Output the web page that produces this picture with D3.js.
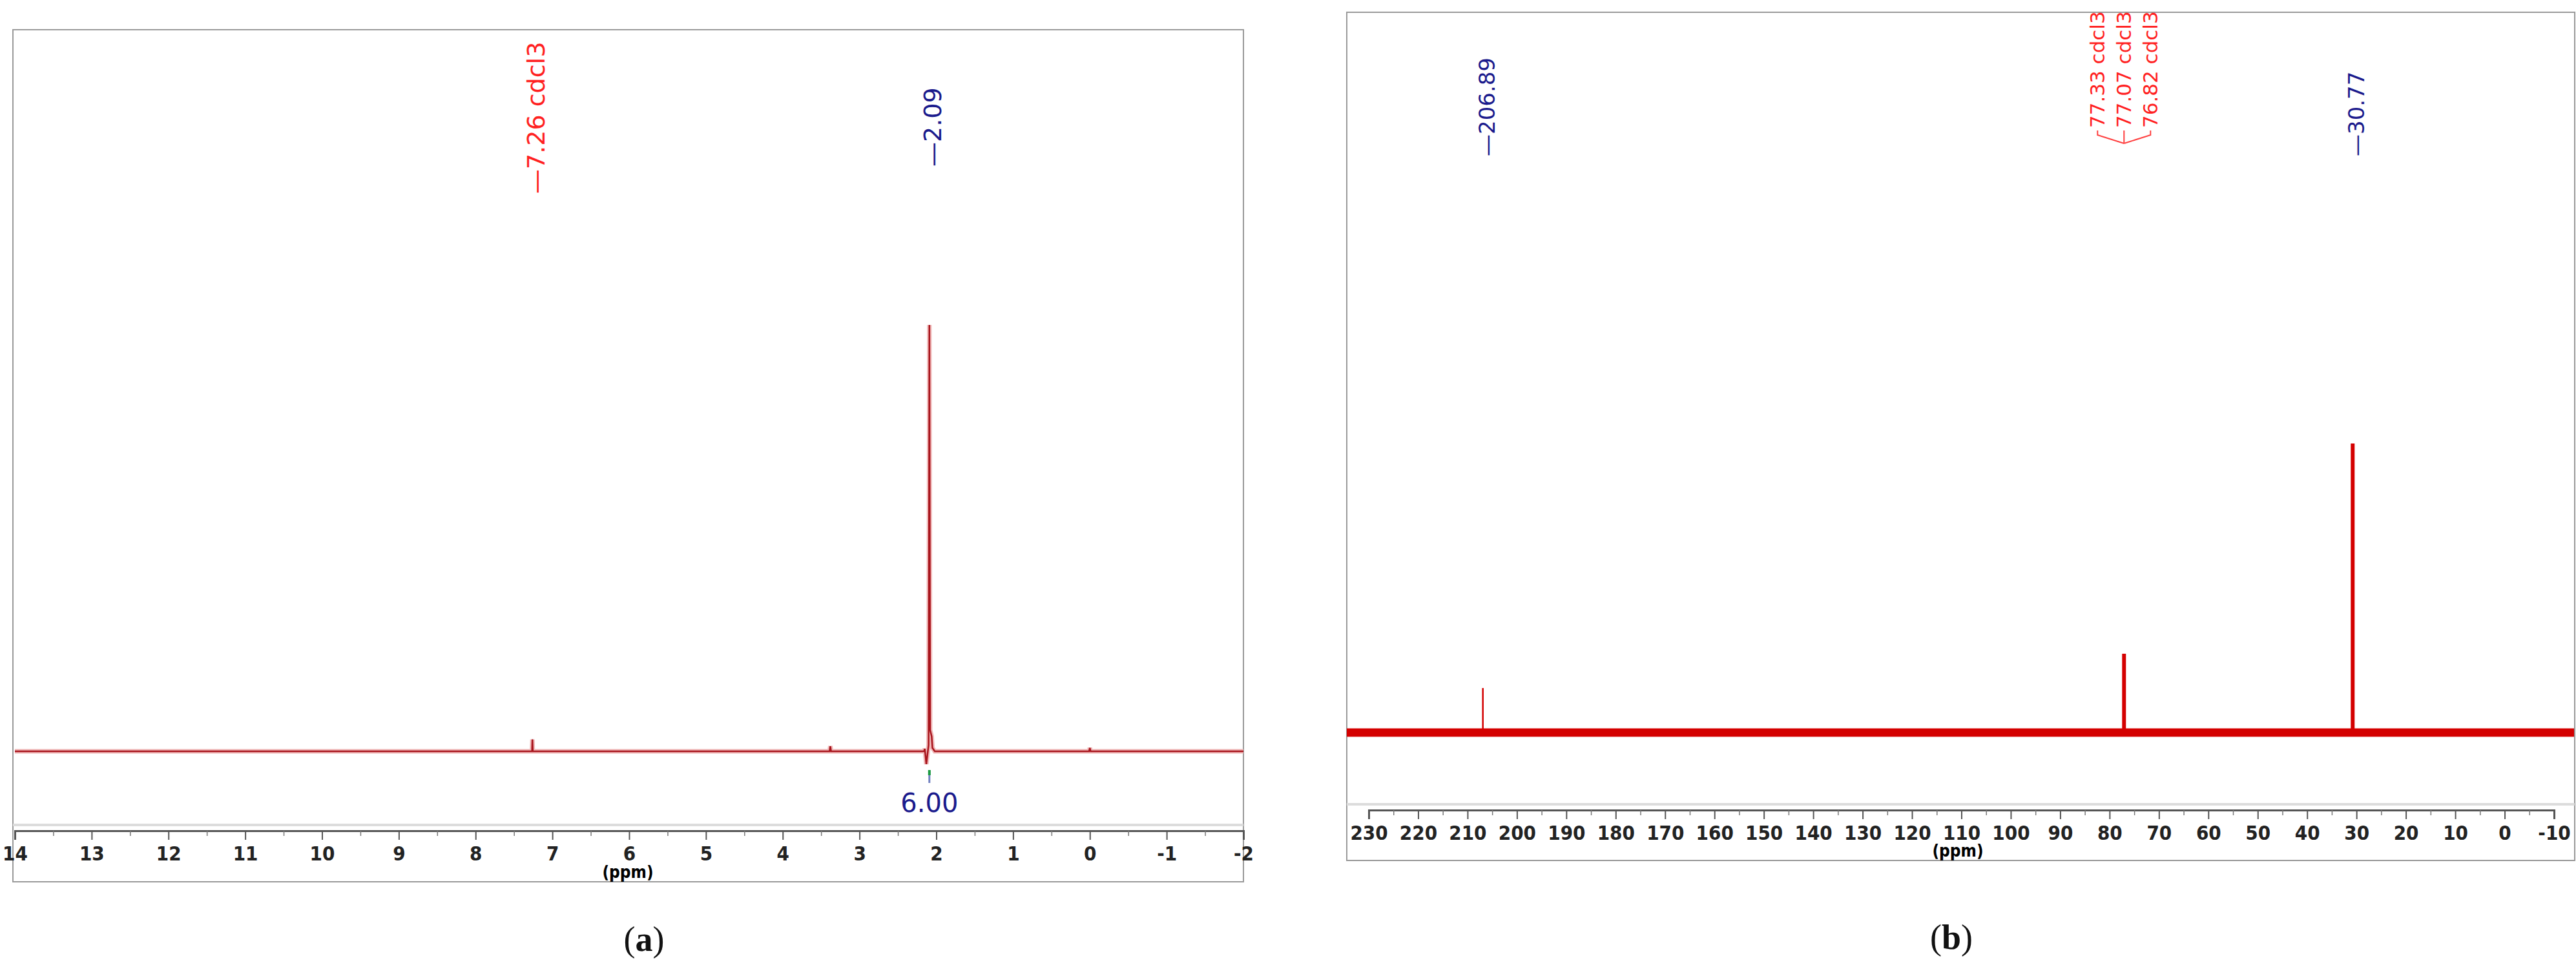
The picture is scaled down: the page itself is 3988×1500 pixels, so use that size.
<!DOCTYPE html>
<html><head><meta charset="utf-8">
<script src="https://cdn.jsdelivr.net/npm/d3@7"></script>
<style>
body { margin: 0; background: #fff; }
.tick text { font-family: "DejaVu Sans Condensed", "DejaVu Sans"; font-weight: bold; font-size: 31px; fill: #222; }
.lbl { font-family: "DejaVu Sans", Verdana, sans-serif; }
</style></head>
<body><svg id="c" width="3988" height="1500"></svg>
<script>
// 1H spectrum, panel (a): [ppm, relative intensity]
var hSpectrum = [[14,0],[7.265,0],[7.26,2.8],[7.255,0],[3.39,0],[3.38,1.2],[3.37,0],[2.16,0],[2.15,0.6],[2.13,-3],[2.11,0],[2.10,1.5],[2.09,100],[2.08,5],[2.06,3.5],[2.05,0.8],[2.02,0],[0.01,0],[0,0.8],[-0.01,0],[-2,0]];
var hPeaks = [{ppm: 7.26, text: "7.26 cdcl3", color: "#ff2020"}, {ppm: 2.09, text: "2.09", color: "#1a1a8c"}];
var hIntegral = {ppm: 2.09, text: "6.00"};
var hTicks = d3.range(14, -2.5, -1);
// 13C spectrum, panel (b)
var cPeaks = [{ppm: 206.89, h: 6.1}, {ppm: 77.07, h: 10.8}, {ppm: 30.77, h: 39.6}];
var cLabels = [{ppm: 206.89, text: "206.89", color: "#1a1a8c"}, {ppm: 30.77, text: "30.77", color: "#1a1a8c"}];
var cSolvent = [{ppm: 77.33, text: "77.33 cdcl3"}, {ppm: 77.07, text: "77.07 cdcl3"}, {ppm: 76.82, text: "76.82 cdcl3"}];
var cTicks = d3.range(230, -11, -10);

var svg = d3.select("#c");

function frame(x0, x1, y0, y1, axisY) {
  svg.append("rect").attr("x", x0).attr("y", y0).attr("width", x1 - x0).attr("height", y1 - y0)
    .attr("fill", "none").attr("stroke", "#9a9a9a").attr("stroke-width", 2);
  svg.append("line").attr("x1", x0).attr("x2", x1).attr("y1", axisY - 9).attr("y2", axisY - 9)
    .attr("stroke", "#dcdcdc").attr("stroke-width", 4);
}

function axis(x, axisY, ticks) {
  var minor = [];
  ticks.forEach(function(t, i) { if (i < ticks.length - 1) minor.push((t + ticks[i + 1]) / 2); });
  var g = svg.append("g").attr("transform", "translate(0," + axisY + ")");
  g.call(d3.axisBottom(x).tickValues(ticks).tickSize(14).tickPadding(10).tickFormat(d3.format("d")));
  g.select(".domain").attr("stroke", "#555").attr("stroke-width", 3);
  g.selectAll(".tick line").attr("stroke", "#555").attr("stroke-width", 2);
  g.selectAll(".tick text").text(function(d) { return d < 0 ? "-" + (-d) : d; });
  svg.append("g").attr("transform", "translate(0," + axisY + ")")
    .call(d3.axisBottom(x).tickValues(minor).tickSize(8).tickFormat(""))
    .call(function(s) { s.select(".domain").remove(); s.selectAll("line").attr("stroke", "#777").attr("stroke-width", 1.5); });
}

function vlabel(x, yBottom, text, color, size) {
  svg.append("text").attr("class", "lbl")
    .attr("transform", "translate(" + x + "," + yBottom + ") rotate(-90)")
    .attr("dy", "0.35em").attr("font-size", size).attr("fill", color)
    .text(text);
}

// ---- panel (a)
var ax = d3.scaleLinear().domain([14, -2]).range([23, 1925]);
var ay = d3.scaleLinear().domain([0, 100]).range([1163, 503]);
frame(20, 1925, 46, 1365, 1286);
axis(ax, 1286, hTicks);
svg.append("text").attr("x", 972).attr("y", 1350).attr("dy", "0.35em").attr("text-anchor", "middle")
  .attr("font-family", "DejaVu Sans Condensed").attr("font-weight", "bold").attr("font-size", 26).text("(ppm)");
var line = d3.line().x(function(d) { return ax(d[0]); }).y(function(d) { return ay(d[1]); });
svg.append("path").attr("d", line(hSpectrum)).attr("fill", "none").attr("stroke", "#f0b8b8").attr("stroke-width", 7);
svg.append("path").attr("d", line(hSpectrum)).attr("fill", "none").attr("stroke", "#a8141c").attr("stroke-width", 2.5);
hPeaks.forEach(function(p) { vlabel(ax(p.ppm) + 5, p.ppm > 5 ? 300 : 258, "\u2014" + p.text, p.color, 38); });
svg.append("line").attr("x1", ax(hIntegral.ppm)).attr("x2", ax(hIntegral.ppm)).attr("y1", 1192).attr("y2", 1212)
  .attr("stroke", "#7080c0").attr("stroke-width", 3);
svg.append("line").attr("x1", ax(hIntegral.ppm)).attr("x2", ax(hIntegral.ppm)).attr("y1", 1192).attr("y2", 1200)
  .attr("stroke", "#1a9a40").attr("stroke-width", 4);
svg.append("text").attr("class", "lbl").attr("x", ax(hIntegral.ppm)).attr("y", 1243).attr("dy", "0.35em")
  .attr("text-anchor", "middle").attr("font-size", 40).attr("fill", "#1a1a8c").text(hIntegral.text);

// ---- panel (b)
var bx = d3.scaleLinear().domain([230, -10]).range([2119, 3954]);
var by = d3.scaleLinear().domain([0, 100]).range([1134, 4]);
frame(2085, 3986, 19, 1332, 1254);
axis(bx, 1254, cTicks);
svg.append("text").attr("x", 3031).attr("y", 1317).attr("dy", "0.35em").attr("text-anchor", "middle")
  .attr("font-family", "DejaVu Sans Condensed").attr("font-weight", "bold").attr("font-size", 26).text("(ppm)");
svg.append("line").attr("x1", bx.range()[0] - 34).attr("x2", 3985).attr("y1", by(0)).attr("y2", by(0))
  .attr("stroke", "#d40000").attr("stroke-width", 13);
svg.selectAll(".cpk").data(cPeaks).enter().append("line").attr("class", "cpk")
  .attr("x1", function(d) { return bx(d.ppm); }).attr("x2", function(d) { return bx(d.ppm); })
  .attr("y1", by(0)).attr("y2", function(d) { return by(d.h); })
  .attr("stroke", "#d40000").attr("stroke-width", function(d) { return d.h > 8 ? 6 : 2.5; });
cLabels.forEach(function(p) { vlabel(bx(p.ppm) + 6, 242, "\u2014" + p.text, p.color, 34); });
var mid = bx(77.07);
cSolvent.forEach(function(p, i) {
  var lx = mid + (i - 1) * 41;
  vlabel(lx, 198, p.text, "#ff2020", 31);
  svg.append("path").attr("d", "M" + lx + ",202 L" + lx + ",209 L" + mid + ",222")
    .attr("fill", "none").attr("stroke", "#ff4040").attr("stroke-width", 2);
});

// captions
[["a", 997, 1453], ["b", 3021, 1450]].forEach(function(c) {
  var t = svg.append("text").attr("x", c[1]).attr("y", c[2]).attr("dy", "0.35em").attr("text-anchor", "middle")
    .attr("font-family", "Liberation Serif").attr("font-size", 54).attr("fill", "#111");
  t.append("tspan").text("(");
  t.append("tspan").attr("font-weight", "bold").text(c[0]);
  t.append("tspan").text(")");
});
</script></body></html>
